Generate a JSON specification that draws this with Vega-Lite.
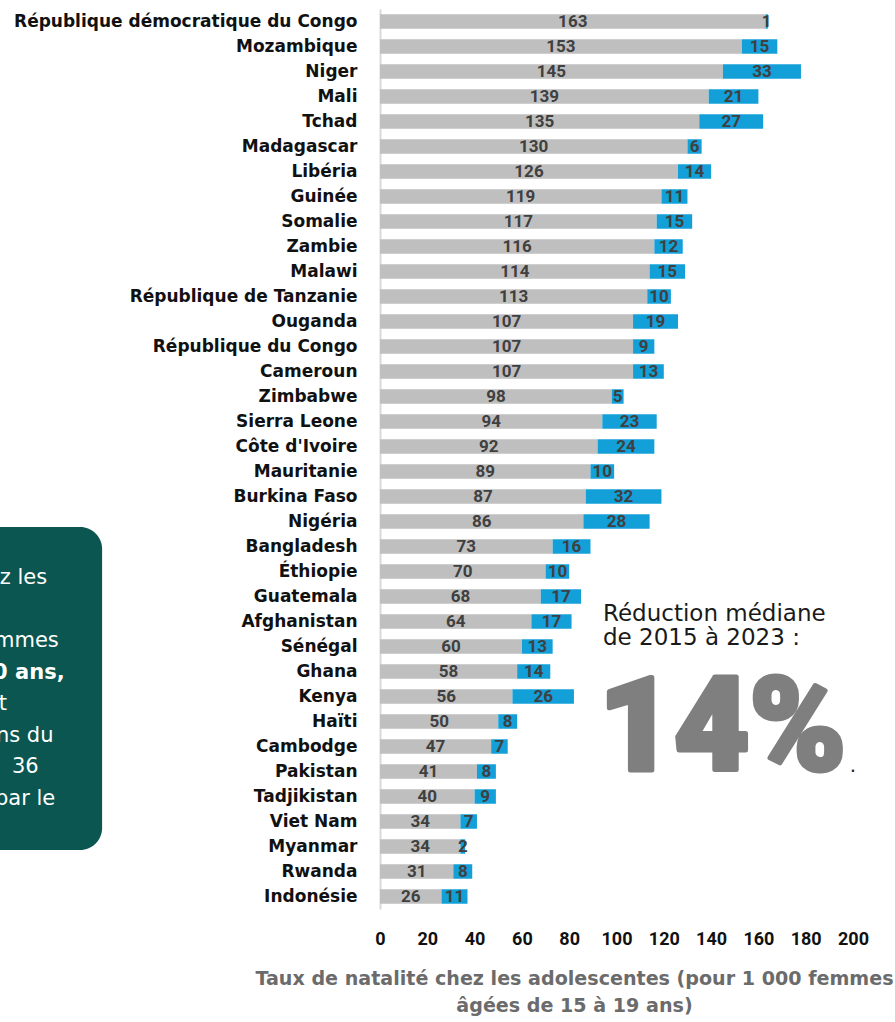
{
  "$schema": "https://vega.github.io/schema/vega-lite/v6.json",
  "width": 473,
  "height": 900,
  "autosize": {"type": "none"},
  "padding": {"left": 380, "top": 9, "right": 42, "bottom": 113},
  "background": "#ffffff",
  "config": {"view": {"stroke": null}, "font": "DejaVu Sans"},
  "layer": [
    {
      "data": {
        "values": [
          {"pays": "République démocratique du Congo", "serie": "Taux 2023", "valeur": 163},
          {"pays": "République démocratique du Congo", "serie": "Réduction depuis 2015", "valeur": 1},
          {"pays": "Mozambique", "serie": "Taux 2023", "valeur": 153},
          {"pays": "Mozambique", "serie": "Réduction depuis 2015", "valeur": 15},
          {"pays": "Niger", "serie": "Taux 2023", "valeur": 145},
          {"pays": "Niger", "serie": "Réduction depuis 2015", "valeur": 33},
          {"pays": "Mali", "serie": "Taux 2023", "valeur": 139},
          {"pays": "Mali", "serie": "Réduction depuis 2015", "valeur": 21},
          {"pays": "Tchad", "serie": "Taux 2023", "valeur": 135},
          {"pays": "Tchad", "serie": "Réduction depuis 2015", "valeur": 27},
          {"pays": "Madagascar", "serie": "Taux 2023", "valeur": 130},
          {"pays": "Madagascar", "serie": "Réduction depuis 2015", "valeur": 6},
          {"pays": "Libéria", "serie": "Taux 2023", "valeur": 126},
          {"pays": "Libéria", "serie": "Réduction depuis 2015", "valeur": 14},
          {"pays": "Guinée", "serie": "Taux 2023", "valeur": 119},
          {"pays": "Guinée", "serie": "Réduction depuis 2015", "valeur": 11},
          {"pays": "Somalie", "serie": "Taux 2023", "valeur": 117},
          {"pays": "Somalie", "serie": "Réduction depuis 2015", "valeur": 15},
          {"pays": "Zambie", "serie": "Taux 2023", "valeur": 116},
          {"pays": "Zambie", "serie": "Réduction depuis 2015", "valeur": 12},
          {"pays": "Malawi", "serie": "Taux 2023", "valeur": 114},
          {"pays": "Malawi", "serie": "Réduction depuis 2015", "valeur": 15},
          {"pays": "République de Tanzanie", "serie": "Taux 2023", "valeur": 113},
          {"pays": "République de Tanzanie", "serie": "Réduction depuis 2015", "valeur": 10},
          {"pays": "Ouganda", "serie": "Taux 2023", "valeur": 107},
          {"pays": "Ouganda", "serie": "Réduction depuis 2015", "valeur": 19},
          {"pays": "République du Congo", "serie": "Taux 2023", "valeur": 107},
          {"pays": "République du Congo", "serie": "Réduction depuis 2015", "valeur": 9},
          {"pays": "Cameroun", "serie": "Taux 2023", "valeur": 107},
          {"pays": "Cameroun", "serie": "Réduction depuis 2015", "valeur": 13},
          {"pays": "Zimbabwe", "serie": "Taux 2023", "valeur": 98},
          {"pays": "Zimbabwe", "serie": "Réduction depuis 2015", "valeur": 5},
          {"pays": "Sierra Leone", "serie": "Taux 2023", "valeur": 94},
          {"pays": "Sierra Leone", "serie": "Réduction depuis 2015", "valeur": 23},
          {"pays": "Côte d'Ivoire", "serie": "Taux 2023", "valeur": 92},
          {"pays": "Côte d'Ivoire", "serie": "Réduction depuis 2015", "valeur": 24},
          {"pays": "Mauritanie", "serie": "Taux 2023", "valeur": 89},
          {"pays": "Mauritanie", "serie": "Réduction depuis 2015", "valeur": 10},
          {"pays": "Burkina Faso", "serie": "Taux 2023", "valeur": 87},
          {"pays": "Burkina Faso", "serie": "Réduction depuis 2015", "valeur": 32},
          {"pays": "Nigéria", "serie": "Taux 2023", "valeur": 86},
          {"pays": "Nigéria", "serie": "Réduction depuis 2015", "valeur": 28},
          {"pays": "Bangladesh", "serie": "Taux 2023", "valeur": 73},
          {"pays": "Bangladesh", "serie": "Réduction depuis 2015", "valeur": 16},
          {"pays": "Éthiopie", "serie": "Taux 2023", "valeur": 70},
          {"pays": "Éthiopie", "serie": "Réduction depuis 2015", "valeur": 10},
          {"pays": "Guatemala", "serie": "Taux 2023", "valeur": 68},
          {"pays": "Guatemala", "serie": "Réduction depuis 2015", "valeur": 17},
          {"pays": "Afghanistan", "serie": "Taux 2023", "valeur": 64},
          {"pays": "Afghanistan", "serie": "Réduction depuis 2015", "valeur": 17},
          {"pays": "Sénégal", "serie": "Taux 2023", "valeur": 60},
          {"pays": "Sénégal", "serie": "Réduction depuis 2015", "valeur": 13},
          {"pays": "Ghana", "serie": "Taux 2023", "valeur": 58},
          {"pays": "Ghana", "serie": "Réduction depuis 2015", "valeur": 14},
          {"pays": "Kenya", "serie": "Taux 2023", "valeur": 56},
          {"pays": "Kenya", "serie": "Réduction depuis 2015", "valeur": 26},
          {"pays": "Haïti", "serie": "Taux 2023", "valeur": 50},
          {"pays": "Haïti", "serie": "Réduction depuis 2015", "valeur": 8},
          {"pays": "Cambodge", "serie": "Taux 2023", "valeur": 47},
          {"pays": "Cambodge", "serie": "Réduction depuis 2015", "valeur": 7},
          {"pays": "Pakistan", "serie": "Taux 2023", "valeur": 41},
          {"pays": "Pakistan", "serie": "Réduction depuis 2015", "valeur": 8},
          {"pays": "Tadjikistan", "serie": "Taux 2023", "valeur": 40},
          {"pays": "Tadjikistan", "serie": "Réduction depuis 2015", "valeur": 9},
          {"pays": "Viet Nam", "serie": "Taux 2023", "valeur": 34},
          {"pays": "Viet Nam", "serie": "Réduction depuis 2015", "valeur": 7},
          {"pays": "Myanmar", "serie": "Taux 2023", "valeur": 34},
          {"pays": "Myanmar", "serie": "Réduction depuis 2015", "valeur": 2},
          {"pays": "Rwanda", "serie": "Taux 2023", "valeur": 31},
          {"pays": "Rwanda", "serie": "Réduction depuis 2015", "valeur": 8},
          {"pays": "Indonésie", "serie": "Taux 2023", "valeur": 26},
          {"pays": "Indonésie", "serie": "Réduction depuis 2015", "valeur": 11}
        ]
      },
      "encoding": {
        "y": {
          "field": "pays",
          "type": "nominal",
          "sort": null,
          "scale": {"paddingInner": 0.42, "paddingOuter": 0.21},
          "axis": {
            "title": null,
            "domain": true,
            "domainColor": "#d9d9d9",
            "domainWidth": 2,
            "ticks": false,
            "tickSize": 0,
            "labelPadding": 23,
            "labelFont": "DejaVu Sans",
            "labelFontWeight": "bold",
            "labelFontSize": 17,
            "labelColor": "#111111",
            "labelLimit": 500
          }
        },
        "x": {
          "field": "valeur",
          "type": "quantitative",
          "stack": "zero",
          "scale": {"domain": [0, 200]},
          "axis": {
            "values": [0, 20, 40, 60, 80, 100, 120, 140, 160, 180, 200],
            "grid": false,
            "domain": false,
            "ticks": false,
            "tickSize": 0,
            "labelFlush": false,
            "labelPadding": 21,
            "labelFont": "Roboto",
            "labelFontWeight": "bold",
            "labelFontSize": 18,
            "labelColor": "#111111",
            "title": ["Taux de natalité chez les adolescentes (pour 1 000 femmes", "âgées de 15 à 19 ans)"],
            "titleFont": "DejaVu Sans",
            "titleFontWeight": "bold",
            "titleFontSize": 19.1,
            "titleColor": "#6b6b6b",
            "titleX": 194,
            "titleY": 75,
            "titleAlign": "center",
            "titleBaseline": "alphabetic",
            "titleLineHeight": 27
          }
        },
        "order": {"field": "serie", "sort": "descending"},
        "detail": {"field": "serie"}
      },
      "layer": [
        {
          "mark": {"type": "bar"},
          "encoding": {
            "color": {
              "field": "serie",
              "type": "nominal",
              "scale": {"domain": ["Taux 2023", "Réduction depuis 2015"], "range": ["#bfbfbf", "#139fd8"]},
              "legend": null
            }
          }
        },
        {
          "mark": {"type": "text", "font": "Roboto", "fontWeight": "bold", "fontSize": 17, "color": "#404040", "baseline": "middle", "align": "center"},
          "encoding": {
            "x": {"field": "valeur", "type": "quantitative", "stack": "zero", "bandPosition": 0.5},
            "text": {"field": "valeur", "type": "quantitative"}
          }
        }
      ]
    },
    {
      "data": {"values": [{}]},
      "layer": [
        {
          "mark": {"type": "rect", "color": "#0b5650", "cornerRadius": 22},
          "encoding": {
            "x": {"datum": -200, "type": "quantitative", "scale": {"domain": [0, 200]}, "axis": null},
            "x2": {"datum": -117.5},
            "y": {"datum": 20.72, "type": "quantitative", "scale": {"domain": [0, 36], "reverse": true}, "axis": null},
            "y2": {"datum": 33.64}
          }
        },
        {
          "mark": {"type": "text", "text": "z les", "font": "DejaVu Sans", "fontSize": 21, "color": "#ffffff", "align": "left", "baseline": "alphabetic"},
          "encoding": {
            "x": {"datum": -160.8, "type": "quantitative", "scale": {"domain": [0, 200]}, "axis": null},
            "y": {"datum": 23.0, "type": "quantitative", "scale": {"domain": [0, 36], "reverse": true}, "axis": null}
          }
        },
        {
          "mark": {"type": "text", "text": "mmes", "font": "DejaVu Sans", "fontSize": 21, "color": "#ffffff", "align": "left", "baseline": "alphabetic"},
          "encoding": {
            "x": {"datum": -163.2, "type": "quantitative", "scale": {"domain": [0, 200]}, "axis": null},
            "y": {"datum": 25.52, "type": "quantitative", "scale": {"domain": [0, 36], "reverse": true}, "axis": null}
          }
        },
        {
          "mark": {"type": "text", "text": "0 ans,", "font": "DejaVu Sans", "fontWeight": "bold", "fontSize": 21, "color": "#ffffff", "align": "left", "baseline": "alphabetic"},
          "encoding": {
            "x": {"datum": -163.6, "type": "quantitative", "scale": {"domain": [0, 200]}, "axis": null},
            "y": {"datum": 26.78, "type": "quantitative", "scale": {"domain": [0, 36], "reverse": true}, "axis": null}
          }
        },
        {
          "mark": {"type": "text", "text": "t", "font": "DejaVu Sans", "fontSize": 21, "color": "#ffffff", "align": "left", "baseline": "alphabetic"},
          "encoding": {
            "x": {"datum": -161.2, "type": "quantitative", "scale": {"domain": [0, 200]}, "axis": null},
            "y": {"datum": 28.04, "type": "quantitative", "scale": {"domain": [0, 36], "reverse": true}, "axis": null}
          }
        },
        {
          "mark": {"type": "text", "text": "ns du", "font": "DejaVu Sans", "fontSize": 21, "color": "#ffffff", "align": "left", "baseline": "alphabetic"},
          "encoding": {
            "x": {"datum": -162.4, "type": "quantitative", "scale": {"domain": [0, 200]}, "axis": null},
            "y": {"datum": 29.3, "type": "quantitative", "scale": {"domain": [0, 36], "reverse": true}, "axis": null}
          }
        },
        {
          "mark": {"type": "text", "text": "36", "font": "DejaVu Sans", "fontSize": 21, "color": "#ffffff", "align": "left", "baseline": "alphabetic"},
          "encoding": {
            "x": {"datum": -155.6, "type": "quantitative", "scale": {"domain": [0, 200]}, "axis": null},
            "y": {"datum": 30.56, "type": "quantitative", "scale": {"domain": [0, 36], "reverse": true}, "axis": null}
          }
        },
        {
          "mark": {"type": "text", "text": "par le", "font": "DejaVu Sans", "fontSize": 21, "color": "#ffffff", "align": "left", "baseline": "alphabetic"},
          "encoding": {
            "x": {"datum": -162.8, "type": "quantitative", "scale": {"domain": [0, 200]}, "axis": null},
            "y": {"datum": 31.82, "type": "quantitative", "scale": {"domain": [0, 36], "reverse": true}, "axis": null}
          }
        },
        {
          "mark": {
            "type": "text",
            "text": ["Réduction médiane", "de 2015 à 2023 :"],
            "font": "DejaVu Sans",
            "fontSize": 23,
            "color": "#1a1a1a",
            "align": "left",
            "baseline": "alphabetic",
            "lineHeight": 24
          },
          "encoding": {
            "x": {"datum": 94.3, "type": "quantitative", "scale": {"domain": [0, 200]}, "axis": null},
            "y": {"datum": 24.46, "type": "quantitative", "scale": {"domain": [0, 36], "reverse": true}, "axis": null}
          }
        },
        {
          "mark": {
            "type": "text",
            "text": "14%",
            "font": "Roboto",
            "fontWeight": 900,
            "fontSize": 130,
            "color": "#7f7f7f",
            "stroke": "#7f7f7f",
            "strokeWidth": 5,
            "strokeJoin": "round",
            "align": "left",
            "baseline": "alphabetic"
          },
          "encoding": {
            "x": {"datum": 92.5, "type": "quantitative", "scale": {"domain": [0, 200]}, "axis": null},
            "y": {"datum": 30.45, "type": "quantitative", "scale": {"domain": [0, 36], "reverse": true}, "axis": null}
          }
        },
        {
          "mark": {
            "type": "text",
            "text": ".",
            "font": "DejaVu Sans",
            "fontSize": 20,
            "color": "#222222",
            "align": "left",
            "baseline": "alphabetic"
          },
          "encoding": {
            "x": {"datum": 198.6, "type": "quantitative", "scale": {"domain": [0, 200]}, "axis": null},
            "y": {"datum": 30.52, "type": "quantitative", "scale": {"domain": [0, 36], "reverse": true}, "axis": null}
          }
        }
      ]
    }
  ],
  "resolve": {"scale": {"y": "independent", "x": "independent"}}
}
